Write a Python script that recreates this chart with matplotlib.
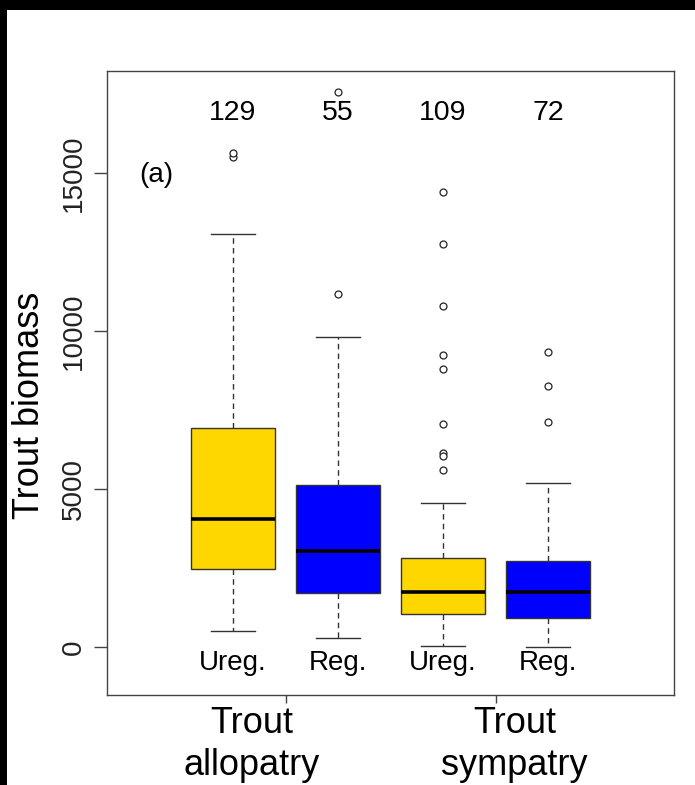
import matplotlib.pyplot as plt
from matplotlib.patches import Rectangle

plt.rcParams['font.family'] = ['Liberation Sans', 'DejaVu Sans']

# data
groups = ["Ureg.", "Reg.", "Ureg.", "Reg."]
counts = [129, 55, 109, 72]
q1 = [2480, 1720, 1035, 910]
med = [4060, 3050, 1750, 1750]
q3 = [6920, 5130, 2810, 2730]
whislo = [505, 295, 40, 10]
whishi = [13070, 9800, 4550, 5190]
fliers = [
    [15510, 15630],
    [11170, 17570],
    [14410, 12750, 10800, 9240, 8790, 7060, 6150, 6060, 5600],
    [9330, 8270, 7130],
]
colors = ["#FFD700", "#0000FF", "#FFD700", "#0000FF"]
group_labels = ["Trout\nallopatry", "Trout\nsympatry"]

fig = plt.figure(figsize=(6.95, 7.85), dpi=100)
ax = fig.add_axes([0.154, 0.1146, 0.816, 0.795])

stats = []
for i in range(4):
    stats.append(dict(med=med[i], q1=q1[i], q3=q3[i], whislo=whislo[i],
                      whishi=whishi[i], fliers=fliers[i]))

pos = [1, 2, 3, 4]
bp = ax.bxp(stats, positions=pos, widths=0.8, capwidths=0.42, patch_artist=True,
            boxprops=dict(edgecolor="#333333", linewidth=1),
            medianprops=dict(color="black", linewidth=2.6),
            whiskerprops=dict(color="#333333", linewidth=1, linestyle=(0, (4, 3))),
            capprops=dict(color="#333333", linewidth=1),
            flierprops=dict(marker="o", markersize=5, markerfacecolor="white",
                            markeredgecolor="#222222", markeredgewidth=0.9))
for box, c in zip(bp["boxes"], colors):
    box.set_facecolor(c)

ax.set_xlim(-0.2, 5.2)
ax.set_ylim(-1520, 18230)

# sample sizes and regulation labels
for p, n, g in zip(pos, counts, groups):
    ax.text(p, 16900, str(n), ha="center", va="center", fontsize=20.5)
    ax.text(p, -500, g, ha="center", va="center", fontsize=20)

ax.text(0.27, 14950, "(a)", ha="center", va="center", fontsize=20)

ax.set_yticks([0, 5000, 10000, 15000])
ax.set_yticklabels(["0", "5000", "10000", "15000"], rotation=90, va="center",
                   fontsize=20, color="#222222")
ax.tick_params(axis="y", length=9.5, width=1, color="#444444", pad=5)

ax.set_xticks([1.5, 3.5])
ax.set_xticklabels(["", ""])
ax.tick_params(axis="x", length=6, width=1, color="#444444")

for x, lab in zip([1.18, 3.68], group_labels):
    ax.text(x, -0.018, lab, transform=ax.get_xaxis_transform(), ha="center",
            va="top", fontsize=26, linespacing=1.25)

for s in ax.spines.values():
    s.set_color("#444444")
    s.set_linewidth(1)

fig.text(0.042, 0.483, "Trout biomass", rotation=90, ha="center", va="center",
         fontsize=26)

# black frame strips of the screenshot
fig.patches.append(Rectangle((0, 1 - 10 / 785), 1, 10 / 785, transform=fig.transFigure,
                             facecolor="black", edgecolor="none", zorder=10))
fig.patches.append(Rectangle((0, 0), 7 / 695, 1, transform=fig.transFigure,
                             facecolor="black", edgecolor="none", zorder=10))

fig.savefig("out.png", dpi=100)
